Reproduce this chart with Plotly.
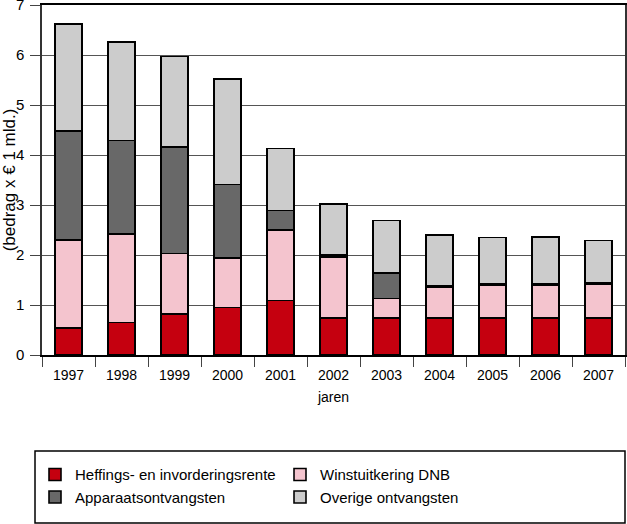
import plotly.graph_objects as go

years = ["1997", "1998", "1999", "2000", "2001", "2002", "2003", "2004", "2005", "2006", "2007"]
heffings = [0.54, 0.65, 0.82, 0.95, 1.09, 0.74, 0.74, 0.74, 0.74, 0.74, 0.74]
winst = [1.76, 1.77, 1.21, 0.99, 1.41, 1.22, 0.39, 0.61, 0.65, 0.66, 0.68]
apparaat = [2.18, 1.87, 2.13, 1.47, 0.39, 0.04, 0.51, 0.03, 0.03, 0.03, 0.03]
overige = [2.14, 1.97, 1.81, 2.11, 1.24, 1.02, 1.05, 1.02, 0.93, 0.93, 0.84]

names = ["Heffings- en invorderingsrente", "Winstuitkering DNB",
         "Apparaatsontvangsten", "Overige ontvangsten"]
colors = ["#C5000F", "#F4C4CE", "#686868", "#CCCCCC"]
series = [heffings, winst, apparaat, overige]

FONT = "Liberation Sans, Arial, sans-serif"

fig = go.Figure()
for nm, col, vals in zip(names, colors, series):
    fig.add_trace(go.Bar(
        x=years, y=vals, name=nm,
        marker=dict(color=col, line=dict(color="black", width=1.6)),
    ))

fig.update_layout(
    barmode="stack",
    bargap=0.49,
    width=627, height=524,
    margin=dict(l=42, r=2, t=5, b=169, autoexpand=False),
    plot_bgcolor="white",
    paper_bgcolor="white",
    font=dict(family=FONT, size=14, color="black"),
    showlegend=True,
    legend=dict(
        orientation="h",
        x=-0.012, xanchor="left",
        y=-0.295, yanchor="top",
        entrywidth=200, entrywidthmode="pixels",
        font=dict(family=FONT, size=15, color="black"),
        bgcolor="rgba(0,0,0,0)",
        borderwidth=0,
        traceorder="normal",
    ),
    shapes=[dict(
        type="rect", xref="paper", yref="paper",
        x0=-0.012, x1=1.0, y0=-0.48, y1=-0.274,
        line=dict(color="black", width=1.5),
        fillcolor="rgba(0,0,0,0)",
    )],
)

fig.update_xaxes(
    type="category",
    tickson="boundaries",
    ticks="outside", ticklen=10, tickwidth=1, tickcolor="#444",
    showline=True, linewidth=2, linecolor="black", mirror=True,
    showgrid=False,
    tickfont=dict(family=FONT, size=14),
    ticklabelstandoff=6,
    title=dict(text="jaren", font=dict(family=FONT, size=14), standoff=10),
)
fig.update_yaxes(
    range=[0, 7], tickvals=[0, 1, 2, 3, 4, 5, 6, 7],
    ticks="outside", ticklen=10, tickwidth=1, tickcolor="#444",
    showline=True, linewidth=1.5, linecolor="#333", mirror=True,
    showgrid=True, gridcolor="#555", gridwidth=1,
    zeroline=False,
    tickfont=dict(family=FONT, size=15),
    ticklabelstandoff=3,
    ticklabeloverflow="allow",
    title=dict(text="(bedrag x € 1 mld.)", font=dict(family=FONT, size=17), standoff=1),
)

fig.write_html(
    "out.html",
    config={"displayModeBar": False},
    post_script="document.body.style.margin='0';document.body.style.overflow='hidden';",
)
